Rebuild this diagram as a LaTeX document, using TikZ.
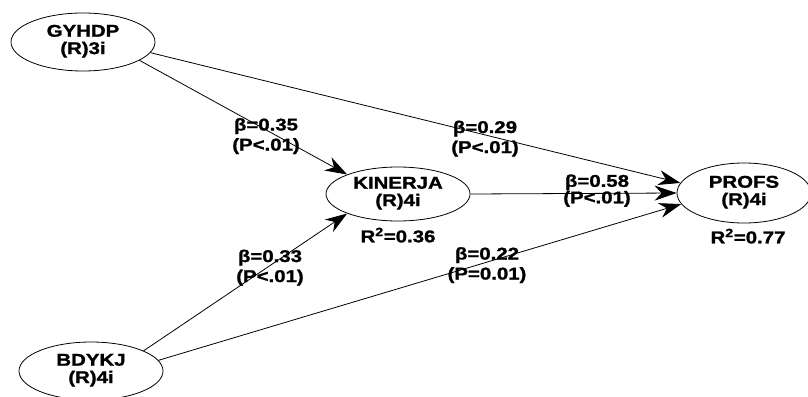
\documentclass[tikz,border=0pt]{standalone}
\usepackage{fontspec}
\usepackage{graphicx}
\setmainfont[BoldFeatures={FakeBold=1.2}]{Liberation Sans}
\usetikzlibrary{shapes.geometric,arrows.meta}
\newcommand{\wtext}[1]{\scalebox{1.2}[1]{\begin{tabular}{@{}c@{}}#1\end{tabular}}}
\begin{document}
\begin{tikzpicture}[x=1pt,y=-1pt,
  lv/.style={ellipse,draw,line width=0.8pt,inner sep=0pt,font=\bfseries\fontsize{17}{17}\selectfont},
  lab/.style={inner sep=0pt,font=\bfseries\fontsize{17}{20}\selectfont},
  labtight/.style={inner sep=0pt,font=\bfseries\fontsize{17}{14}\selectfont},
  arr/.style={line width=0.8pt,-{Stealth[length=22pt,width=15pt,inset=7pt]}}]
\useasboundingbox[fill=white] (0,0) rectangle (808,396);

% latent variables
\node[lv,minimum width=144pt,minimum height=58pt] (g) at (83,42) {\wtext{GYHDP\\(R)3i}};
\node[lv,minimum width=144pt,minimum height=54pt] (k) at (398,194) {\wtext{KINERJA\\(R)4i}};
\node[lv,minimum width=134pt,minimum height=60pt] (p) at (744,193) {\wtext{PROFS\\(R)4i}};
\node[lv,minimum width=144pt,minimum height=58pt] (b) at (91,371) {\wtext{BDYKJ\\(R)4i}};

% paths
\draw[arr] (g.-18) -- (k.159);
\draw[arr] (g.-9) -- (p.171);
\draw[arr] (k.east) -- (p.west);
\draw[arr] (b.21) -- (k.201);
\draw[arr] (b.9.5) -- (p.190);

% path labels
\node[lab] (l1) at (266,136.5) {\wtext{β=0.35\\(P<.01)}};
\node[lab] (l2) at (485,139) {\wtext{β=0.29\\(P<.01)}};
\node[labtight] (l3) at (597,191) {\wtext{β=0.58\\(P<.01)}};
\node[lab] (l4) at (270,268) {\wtext{β=0.33\\(P<.01)}};
\node[lab] (l5) at (487,265.5) {\wtext{β=0.22\\(P=0.01)}};

% R squared
\node[lab] (r1) at (398,238) {\wtext{R\textsuperscript{2}=0.36}};
\node[lab] (r2) at (748,239) {\wtext{R\textsuperscript{2}=0.77}};
\end{tikzpicture}
\end{document}
